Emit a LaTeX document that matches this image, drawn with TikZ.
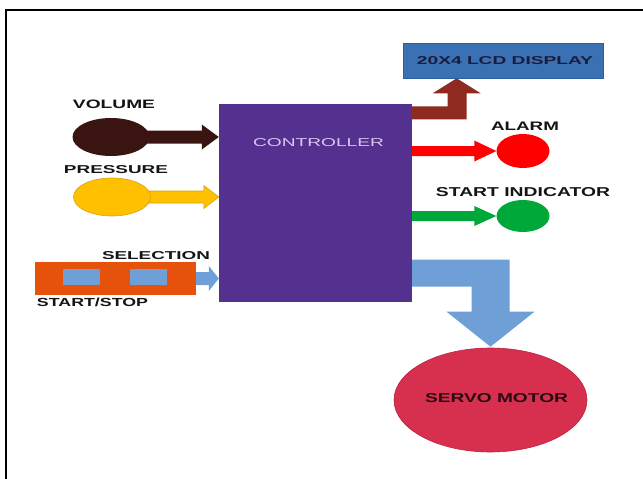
\documentclass[tikz,border=0pt]{standalone}
\usepackage{fontspec}
\usepackage{graphicx}
\setmainfont{Liberation Sans}
\usetikzlibrary{shapes.geometric,backgrounds,calc}
\definecolor{ctrlpurple}{HTML}{54308F}
\definecolor{lcdblue}{HTML}{3A70B4}
\definecolor{lcdedge}{HTML}{2E5E9C}
\definecolor{volbrown}{HTML}{3A1410}
\definecolor{presyellow}{HTML}{FFC000}
\definecolor{presedge}{HTML}{D9A200}
\definecolor{selorange}{HTML}{E6520C}
\definecolor{btnblue}{HTML}{6E9FD6}
\definecolor{lcdarrow}{HTML}{8E2A20}
\definecolor{alarmred}{HTML}{FF0000}
\definecolor{indgreen}{HTML}{00A83A}
\definecolor{servored}{HTML}{D6304E}
\definecolor{servoedge}{HTML}{C02040}
\definecolor{ctrltext}{HTML}{D9C6F2}
\definecolor{lcdtext}{HTML}{1C1C3C}
\definecolor{servotext}{HTML}{2A0A12}
\definecolor{labelblack}{HTML}{151515}
\newcommand{\fitlbl}[3]{\resizebox{#1pt}{#2pt}{#3}}
% horizontal block arrow: #1 style, #2 start, #3 tip, #4 shaft half, #5 head half, #6 head length
\newcommand{\harrow}[6]{%
  \fill[#1] ($(#2)+(0,-#4)$) -- ($(#3)+(-#6,-#4)$) -- ($(#3)+(-#6,-#5)$) -- (#3)
    -- ($(#3)+(-#6,#5)$) -- ($(#3)+(-#6,#4)$) -- ($(#2)+(0,#4)$) -- cycle;}
\begin{document}
\begin{tikzpicture}[x=1pt,y=-1pt,
  lbl/.style={inner sep=0pt,font=\bfseries,text=labelblack},
  blob/.style={ellipse,inner sep=0pt},
  boxnode/.style={rectangle,inner sep=0pt}]
\useasboundingbox (0,0) rectangle (643,479);
% frame
\draw[line width=2pt,black] (6,479) -- (6,10) -- (643,10);
% blocks
\node[boxnode,fill=ctrlpurple,minimum width=193pt,minimum height=198pt] (ctrl) at (315.5,203) {};
\node[boxnode,fill=lcdblue,draw=lcdedge,line width=0.6pt,minimum width=200pt,minimum height=35pt] (lcd) at (503,60.5) {};
\node[blob,fill=volbrown,minimum width=77pt,minimum height=38pt] (vol) at (111,137) {};
\node[blob,fill=presyellow,draw=presedge,line width=0.6pt,minimum width=77pt,minimum height=38pt] (pres) at (112,197) {};
\node[blob,fill=alarmred,minimum width=53pt,minimum height=34pt] (alarm) at (523,151) {};
\node[blob,fill=indgreen,minimum width=53pt,minimum height=32pt] (ind) at (523,216) {};
\node[boxnode,fill=selorange,minimum width=161pt,minimum height=33pt] (sel) at (115.5,278.5) {};
\node[boxnode,fill=btnblue,minimum width=37pt,minimum height=16pt] (btnA) at (81.5,277) {};
\node[boxnode,fill=btnblue,minimum width=37pt,minimum height=16pt] (btnB) at (148.5,277) {};
\node[blob,fill=servored,draw=servoedge,line width=0.6pt,minimum width=193pt,minimum height=104pt] (servo) at (490.5,400) {};
% labels
\node[lbl] (volT) at (114,104.5) {\fitlbl{82}{8.5}{VOLUME}};
\node[lbl] (presT) at (116,170) {\fitlbl{104}{8}{PRESSURE}};
\node[lbl] (selT) at (156,255.5) {\fitlbl{108}{8}{SELECTION}};
\node[lbl] (ssT) at (92.5,302.5) {\fitlbl{111}{8.5}{START/STOP}};
\node[inner sep=0pt,text=ctrltext] (ctrlT) at (318.5,143) {\fitlbl{131}{8}{CONTROLLER}};
\node[lbl,text=lcdtext] (lcdT) at (505,61) {\fitlbl{176}{8}{20X4 LCD DISPLAY}};
\node[lbl] (alarmT) at (525,126.5) {\fitlbl{68}{8.5}{ALARM}};
\node[lbl] (indT) at (523,192.5) {\fitlbl{174}{9}{START INDICATOR}};
\node[lbl,text=servotext] (servoT) at (496.5,398.5) {\fitlbl{143}{9}{SERVO MOTOR}};
% connector end points
\coordinate (volTip) at (ctrl.west|-vol.center);
\coordinate (presTip) at (ctrl.west|-pres.center);
\coordinate (selTip) at (ctrl.west|-sel.center);
\coordinate (alarmBase) at (ctrl.east|-alarm.center);
\coordinate (indBase) at (ctrl.east|-ind.center);
\coordinate (lcdTip) at ($(lcd.south west)+(54,0)$);
\coordinate (lcdBase) at (ctrl.east|-lcdTip);
\coordinate (servoTip) at ($(servo.north)+(0,-1)$);
\coordinate (servoBase) at (ctrl.east|-servoTip);
\begin{scope}[on background layer]
\fill[white] (0,0) rectangle (643,479);
\harrow{volbrown}{vol.center}{volTip}{6.5}{12.5}{17}
\harrow{presyellow,draw=presedge,line width=0.6pt}{pres.center}{presTip}{6}{11.5}{15}
\harrow{btnblue}{sel.center}{selTip}{6.5}{12.5}{10}
\harrow{alarmred}{alarmBase}{alarm.west}{5}{10.5}{22}
\harrow{indgreen}{indBase}{ind.west}{5}{10}{22}
\fill[lcdarrow] ($(lcdBase)+(-2,28)$) -- ($(lcdTip)+(-9,28)$) -- ($(lcdTip)+(-9,15)$)
  -- ($(lcdTip)+(-24,15)$) -- (lcdTip) -- ($(lcdTip)+(24,15)$) -- ($(lcdTip)+(10,15)$)
  -- ($(lcdTip)+(10,41)$) -- ($(lcdBase)+(-2,41)$) -- cycle;
\fill[btnblue] ($(servoBase)+(-2,-87)$) -- ($(servoTip)+(19,-87)$) -- ($(servoTip)+(19,-35)$)
  -- ($(servoTip)+(44,-35)$) -- (servoTip) -- ($(servoTip)+(-44,-35)$) -- ($(servoTip)+(-19,-35)$)
  -- ($(servoTip)+(-19,-60)$) -- ($(servoBase)+(-2,-60)$) -- cycle;
\end{scope}
\end{tikzpicture}
\end{document}
